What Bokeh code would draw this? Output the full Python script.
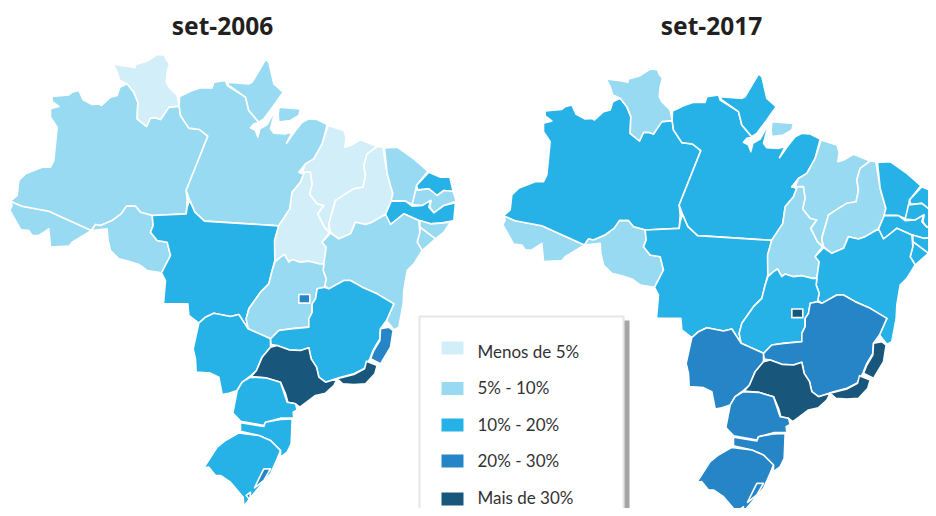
from bokeh.plotting import figure
from bokeh.models import ColumnDataSource, Range1d
from bokeh.embed import file_html
from bokeh.resources import INLINE

# Map outlines, in map units
AC = [(30,602),(65,617),(145,632),(273,690),(240,710),(215,725),(205,737),(150,740),(145,685),(115,705),(95,705),(85,690),(60,687),(45,660),(28,630),(35,615)]
AM = [(155,288),(205,283),(215,275),(235,270),(248,298),(275,312),(295,310),(303,315),(330,290),(350,285),(358,260),(380,250),(400,275),(412,305),(410,355),(438,378),(450,352),(465,352),(480,357),(495,335),(505,320),(536,317),(540,345),(565,383),(597,387),(622,407),(557,570),(560,600),(557,640),(455,645),(420,635),(405,617),(378,617),(362,640),(335,660),(300,675),(285,672),(273,690),(145,632),(65,617),(30,602),(50,585),(55,540),(75,520),(100,510),(125,500),(150,500),(160,480),(170,380),(150,350),(150,325),(175,318),(155,303)]
RR = [(338,192),(385,198),(403,202),(405,192),(440,182),(470,162),(492,164),(497,178),(507,190),(500,215),(497,245),(505,260),(530,285),(536,317),(505,320),(495,335),(480,357),(465,352),(450,352),(438,378),(410,355),(412,305),(400,275),(380,250),(358,240),(350,215)]
RO = [(273,690),(285,672),(300,675),(335,660),(362,640),(378,617),(405,617),(420,635),(455,645),(458,675),(450,695),(470,720),(500,725),(510,765),(483,817),(440,810),(415,792),(385,782),(355,775),(330,750),(322,715),(320,685)]
PA = [(537,288),(570,272),(600,262),(635,262),(640,245),(675,240),(680,255),(735,290),(745,330),(770,360),(780,365),(760,370),(750,382),(765,390),(772,410),(778,385),(800,372),(815,345),(825,330),(815,365),(810,385),(820,398),(855,400),(875,395),(858,428),(885,390),(905,365),(925,355),(950,357),(980,372),(965,430),(940,475),(915,490),(895,515),(910,520),(900,545),(875,575),(868,625),(835,676),(612,662),(583,635),(567,598),(557,570),(622,407),(597,387),(565,383),(540,345),(536,317)]
AP = [(680,245),(745,250),(755,245),(795,177),(805,185),(820,250),(848,275),(820,315),(790,355),(775,365),(745,330),(735,290),(685,255)]
MJ = [(835,320),(900,325),(895,345),(870,360),(835,365),(833,345)]
MT = [(567,598),(583,635),(612,662),(835,676),(823,720),(823,780),(815,810),(805,850),(780,875),(745,925),(737,955),(743,985),(715,942),(690,948),(640,938),(615,950),(595,968),(565,945),(562,910),(489,909),(495,840),(483,817),(510,765),(500,725),(470,720),(450,695),(458,675),(455,645),(557,640),(560,620)]
TO = [(895,515),(930,515),(935,550),(928,582),(950,610),(970,615),(952,640),(972,680),(987,695),(965,725),(977,740),(970,790),(955,790),(925,782),(900,785),(875,777),(865,785),(852,762),(840,770),(823,785),(822,720),(835,675),(868,625),(875,575),(900,545),(910,520)]
MA = [(983,375),(1030,390),(1037,412),(1033,440),(1050,435),(1080,418),(1130,438),(1100,460),(1090,495),(1095,525),(1088,560),(1060,565),(1035,580),(1005,600),(985,670),(987,695),(972,680),(952,640),(970,615),(950,610),(928,582),(935,550),(930,515),(905,515),(915,490),(940,475),(965,430)]
PI = [(1147,440),(1160,520),(1177,580),(1172,605),(1155,640),(1115,665),(1095,672),(1065,665),(1050,700),(1015,715),(990,695),(985,670),(1005,600),(1035,580),(1060,565),(1088,560),(1095,525),(1090,495),(1100,460),(1130,438)]
CE = [(1152,442),(1190,440),(1240,475),(1282,512),(1248,555),(1238,612),(1215,602),(1172,600),(1177,580),(1160,520)]
RN = [(1285,515),(1320,530),(1348,530),(1358,573),(1330,570),(1310,585),(1285,565),(1252,568),(1248,555)]
PB = [(1245,570),(1285,565),(1310,585),(1330,570),(1358,573),(1367,602),(1330,615),(1300,637),(1288,620),(1292,600),(1265,615),(1235,612)]
PE = [(1172,602),(1215,602),(1235,617),(1265,615),(1290,600),(1285,620),(1300,637),(1330,615),(1365,607),(1360,660),(1320,668),(1290,670),(1255,660),(1210,640),(1170,672),(1155,642)]
AL = [(1258,660),(1290,670),(1320,668),(1350,665),(1330,695),(1305,715),(1258,680)]
SE = [(1258,680),(1305,715),(1265,750),(1250,725),(1258,695)]
BA = [(990,698),(1015,715),(1050,700),(1065,665),(1095,672),(1115,665),(1155,642),(1170,672),(1210,640),(1255,660),(1258,695),(1250,725),(1265,750),(1240,790),(1220,810),(1210,870),(1208,910),(1195,980),(1180,988),(1158,960),(1180,910),(1130,880),(1085,860),(1050,840),(1030,840),(985,865),(972,855),(977,835),(968,810),(970,790),(977,740),(965,725)]
GO = [(823,785),(840,770),(852,762),(865,785),(875,777),(900,785),(925,782),(955,790),(970,790),(968,810),(977,835),(972,860),(950,865),(945,895),(935,910),(935,935),(925,955),(925,980),(870,985),(835,990),(810,1015),(743,985),(737,955),(745,925),(780,875),(805,850),(815,810)]
DF = [(895,882),(928,882),(928,908),(895,908)]
MS = [(595,968),(615,950),(640,938),(690,948),(715,942),(743,985),(810,1015),(810,1040),(785,1070),(768,1110),(748,1128),(725,1145),(710,1170),(685,1178),(665,1182),(655,1130),(630,1118),(587,1115),(585,1075),(578,1045)]
MG = [(810,1015),(835,990),(870,985),(925,980),(925,955),(935,935),(935,910),(945,895),(950,865),(972,860),(985,865),(1030,840),(1050,840),(1085,860),(1130,880),(1180,910),(1158,960),(1140,985),(1138,1015),(1120,1045),(1108,1075),(1090,1105),(1060,1120),(1020,1130),(975,1145),(955,1130),(948,1100),(932,1075),(925,1042),(900,1050),(865,1048),(830,1035),(812,1032)]
ES = [(1140,985),(1165,980),(1178,990),(1170,1040),(1140,1090),(1110,1075),(1120,1050),(1138,1020)]
RJ = [(1098,1082),(1130,1095),(1123,1120),(1095,1150),(1060,1152),(1027,1150),(1010,1135),(1060,1122),(1092,1105)]
SP = [(830,1035),(865,1048),(900,1050),(925,1042),(932,1075),(948,1100),(955,1130),(975,1145),(1010,1135),(1000,1155),(975,1178),(945,1185),(898,1220),(885,1210),(862,1205),(855,1180),(840,1145),(795,1132),(752,1128),(768,1110),(785,1070),(810,1040)]
PR = [(750,1130),(795,1132),(840,1145),(860,1205),(885,1210),(890,1228),(878,1235),(880,1253),(840,1253),(795,1265),(790,1275),(720,1262),(697,1238),(710,1170),(725,1145)]
SC = [(720,1267),(790,1278),(795,1265),(840,1257),(875,1255),(872,1330),(860,1355),(840,1370),(840,1350),(810,1320),(775,1305),(720,1292)]
RS = [(715,1297),(775,1305),(810,1320),(840,1350),(830,1375),(810,1420),(780,1455),(755,1485),(730,1517),(728,1490),(690,1445),(660,1425),(645,1425),(625,1400),(610,1402),(650,1340),(675,1320)]
LP = [(790,1405),(810,1405),(790,1440),(762,1462),(775,1435)]
LM = [(737,1485),(750,1475),(748,1498)]

STATES = [AC, AM, RR, RO, PA, AP, MJ, MT, TO, MA, PI, CE, RN, PB, PE, AL, SE, BA, GO, MS, MG, ES, RJ, SP, PR, SC, RS, LP, LM, DF]
CLASS_2006 = [1, 1, 0, 1, 1, 1, 1, 2, 0, 0, 0, 1, 2, 1, 2, 1, 1, 1, 1, 2, 2, 3, 4, 4, 2, 2, 2, 3, 3, 3]
CLASS_2017 = [1, 2, 1, 1, 2, 2, 1, 2, 1, 1, 1, 2, 2, 2, 2, 2, 2, 2, 2, 3, 3, 4, 4, 4, 3, 3, 3, 3, 3, 4]
COLORS = ["#d2eef9", "#99daf3", "#26b2e7", "#2685c6", "#18567c"]
LEGEND_LABELS = ["Menos de 5%", "5% - 10%", "10% - 20%", "20% - 30%", "Mais de 30%"]
TITLES = ["set-2006", "set-2017"]

U = 3  # map units per pixel
W, H = 928, 508
p = figure(width=W, height=H, output_backend="svg", toolbar_location=None,
           x_range=Range1d(0, W*U), y_range=Range1d(H*U, 0),
           min_border=0, outline_line_color=None)
p.axis.visible = False
p.grid.visible = False
p.background_fill_color = "white"


def draw(classes, dx, dy):
    src = ColumnDataSource(dict(
        xs=[[a + dx for a, _ in s] for s in STATES],
        ys=[[b + dy for _, b in s] for s in STATES],
        c=[COLORS[k] for k in classes]))
    p.patches("xs", "ys", source=src, fill_color="c", line_color="white",
              line_width=1.6, line_join="round")


draw(CLASS_2006, 0, 0)
draw(CLASS_2017, 493*U, 14.5*U)

p.text([222*U, 711*U], [25*U, 25*U], text=TITLES, text_font={"value": "Noto Sans"},
       text_font_style="bold", text_font_size="24.5px", text_align="center",
       text_baseline="middle", text_color="#231f20")

# legend panel
p.quad(left=[419*U], right=[623*U], top=[316*U], bottom=[530*U], fill_color="white",
       line_color="#e6e6e6", line_width=2)
p.quad(left=[624*U], right=[629*U], top=[320*U], bottom=[530*U], fill_color="#a4a4a4",
       line_color=None)
sw_top = [341, 381.5, 418, 454, 492]
txt_y = [351, 387, 424, 460, 497]
p.quad(left=[441*U]*5, right=[463*U]*5, top=[t*U for t in sw_top],
       bottom=[(t + 13)*U for t in sw_top], fill_color=COLORS, line_color=None)
p.text([477*U]*5, [t*U for t in txt_y], text=LEGEND_LABELS, text_font={"value": "Lato"},
       text_font_size="17px", text_baseline="middle", text_color="#333333")

open("out.html", "w").write(file_html(p, INLINE))
